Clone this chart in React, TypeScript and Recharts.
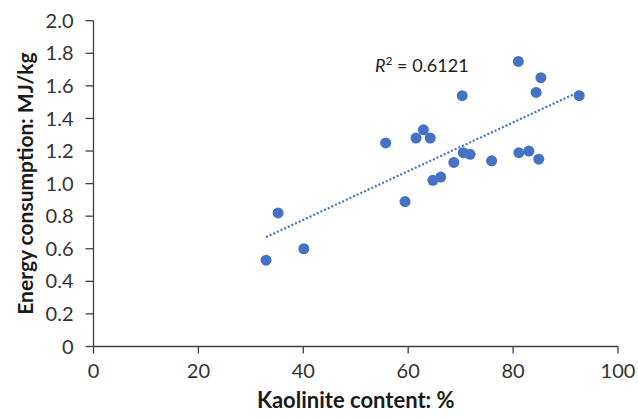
import React from 'react';
import { ScatterChart, Scatter, XAxis, YAxis, ReferenceLine, Label } from 'recharts';

const kaolinite = [81.0, 85.3, 84.4, 92.6, 70.3, 55.7, 61.5, 62.9, 64.2, 70.5, 71.8, 68.7, 75.9, 81.1, 83.0, 84.9, 64.7, 66.2, 59.4, 35.2, 40.1, 32.9];
const energy = [1.75, 1.65, 1.56, 1.54, 1.54, 1.25, 1.28, 1.33, 1.28, 1.19, 1.18, 1.13, 1.14, 1.19, 1.20, 1.15, 1.02, 1.04, 0.89, 0.82, 0.60, 0.53];
const xTicks = [0, 20, 40, 60, 80, 100];
const yTicks = [0, 0.2, 0.4, 0.6, 0.8, 1.0, 1.2, 1.4, 1.6, 1.8, 2.0];
const r2Label = '0.6121';

const data = kaolinite.map((x, i) => ({ x, y: energy[i] }));

// linear regression for trendline
const n = data.length;
const mx = kaolinite.reduce((a, b) => a + b, 0) / n;
const my = energy.reduce((a, b) => a + b, 0) / n;
let sxy = 0, sxx = 0;
data.forEach((d) => { sxy += (d.x - mx) * (d.y - my); sxx += (d.x - mx) * (d.x - mx); });
const slope = sxy / sxx;
const intercept = my - slope * mx;
const xMin = Math.min(...kaolinite);
const xMax = Math.max(...kaolinite);
const trend = [
  { x: xMin, y: intercept + slope * xMin },
  { x: xMax, y: intercept + slope * xMax },
];

const FONT = 'Lato, "Open Sans", sans-serif';
const BLUE = '#4472C4';

export default function App() {
  return (
    <div style={{ position: 'absolute', left: 0, top: 0, width: 638, height: 419, background: '#fff', fontFamily: FONT }}>
      <ScatterChart width={638} height={419} margin={{ top: 20.7, right: 20, bottom: 0, left: 0 }}>
        <XAxis
          type="number"
          dataKey="x"
          domain={[0, 100]}
          ticks={xTicks}
          tickSize={7}
          tickMargin={10}
          height={72.5}
          axisLine={{ stroke: '#404040', strokeWidth: 1.3 }}
          tickLine={{ stroke: '#404040', strokeWidth: 1.3 }}
          tick={{ fill: '#333', fontSize: 20, fontFamily: FONT }}
        >
          <Label
            value="Kaolinite content: %"
            position="insideBottom"
            offset={11}
            style={{ fill: '#1a1a1a', fontSize: 22, fontWeight: 700, fontFamily: FONT }}
          />
        </XAxis>
        <YAxis
          type="number"
          dataKey="y"
          domain={[0, 2]}
          ticks={yTicks}
          tickFormatter={(v: number) => (v === 0 ? '0' : v.toFixed(1))}
          tickSize={8}
          tickMargin={12}
          width={93.5}
          axisLine={{ stroke: '#404040', strokeWidth: 1.3 }}
          tickLine={{ stroke: '#404040', strokeWidth: 1.3 }}
          tick={{ fill: '#333', fontSize: 20, fontFamily: FONT }}
        >
          <Label
            value="Energy consumption: MJ/kg"
            angle={-90}
            position="insideLeft"
            offset={26}
            style={{ fill: '#1a1a1a', fontSize: 21, fontWeight: 700, fontFamily: FONT, textAnchor: 'middle' }}
          />
        </YAxis>
        <ReferenceLine
          segment={trend}
          stroke={BLUE}
          strokeWidth={2.2}
          strokeDasharray="2 2"
          ifOverflow="visible"
        />
        <Scatter data={data} fill={BLUE} isAnimationActive={false} shape={(p: any) => <circle cx={p.cx} cy={p.cy} r={5.5} fill={BLUE} />} />
      </ScatterChart>
      <div style={{ position: 'absolute', left: 375, top: 53, fontSize: 18, color: '#222', fontFamily: FONT, whiteSpace: 'nowrap' }}>
        <span style={{ fontStyle: 'italic' }}>R</span>
        <sup style={{ fontSize: 12 }}>2</sup>
        {' = ' + r2Label}
      </div>
    </div>
  );
}
